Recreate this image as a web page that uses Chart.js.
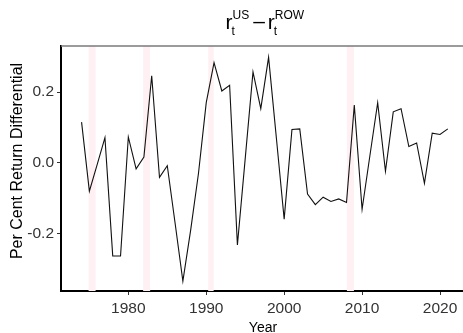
<!DOCTYPE html>
<html><head><meta charset="utf-8">
<script src="https://cdn.jsdelivr.net/npm/chart.js@4"></script>
<style>html,body{margin:0;padding:0;background:#fff;}canvas{display:block}</style>
</head><body>
<canvas id="c" width="463" height="333"></canvas>
<script>
const years = [1974,1975,1976,1977,1978,1979,1980,1981,1982,1983,1984,1985,1986,1987,1988,1989,1990,1991,1992,1993,1994,1995,1996,1997,1998,1999,2000,2001,2002,2003,2004,2005,2006,2007,2008,2009,2010,2011,2012,2013,2014,2015,2016,2017,2018,2019,2020,2021];
const differential = [0.115,-0.08,-0.005,0.071,-0.263,-0.263,0.073,-0.017,0.016,0.246,-0.041,-0.008,-0.17,-0.334,-0.19,-0.03,0.17,0.283,0.203,0.219,-0.232,0.012,0.257,0.153,0.298,0.07,-0.159,0.094,0.096,-0.088,-0.118,-0.097,-0.109,-0.102,-0.112,0.163,-0.131,0.02,0.17,-0.024,0.144,0.153,0.046,0.056,-0.058,0.084,0.08,0.096];
const yTicks = [-0.2, 0, 0.2];
const xTicks = [1980, 1990, 2000, 2010, 2020];
const bandStarts = [1974.9, 1981.9, 1990.25, 2008.05];
const bandEnds = [1975.8, 1982.8, 1990.95, 2008.95];
const titleParts = ['r', 't', 'US', '\u2013', 'r', 't', 'ROW'];
const xTitle = 'Year';
const yTitle = 'Per Cent Return Differential';

const FONT = '"Liberation Sans", Arial, sans-serif';

const bandsPlugin = {
  id: 'bands',
  beforeDatasetsDraw(chart) {
    const {ctx, chartArea: a, scales: {x}} = chart;
    ctx.save();
    ctx.fillStyle = '#FEF0F3';
    bandStarts.forEach((s, i) => {
      const x0 = x.getPixelForValue(s), x1 = x.getPixelForValue(bandEnds[i]);
      ctx.fillRect(x0, a.top, x1 - x0, a.bottom - a.top);
    });
    ctx.restore();
  }
};

const framePlugin = {
  id: 'frame',
  afterDraw(chart) {
    const {ctx, chartArea: a} = chart;
    ctx.save();
    ctx.strokeStyle = '#7a7a7a';
    ctx.lineWidth = 1.5;
    ctx.beginPath();
    ctx.moveTo(a.left, a.top);
    ctx.lineTo(a.right, a.top);
    ctx.stroke();
    ctx.fillStyle = '#000';
    ctx.textBaseline = 'alphabetic';
    ctx.textAlign = 'center';
    ctx.font = '14px ' + FONT;
    ctx.fillText(xTitle, (a.left + a.right) / 2 + 1, 331.5);
    ctx.save();
    ctx.translate(21.5, 161);
    ctx.rotate(-Math.PI / 2);
    ctx.font = '16px ' + FONT;
    ctx.fillText(yTitle, 0, 0);
    ctx.restore();
    ctx.textAlign = 'left';
    const big = '21px ' + FONT, small = '12px ' + FONT;
    let cx = 225.5;
    const baseY = 29;
    ctx.font = big; ctx.fillText(titleParts[0], cx, baseY);
    const rw = ctx.measureText(titleParts[0]).width;
    ctx.font = small;
    ctx.fillText(titleParts[1], cx + rw - 1, baseY + 6);
    ctx.fillText(titleParts[2], cx + rw, baseY - 10);
    cx = cx + rw + ctx.measureText(titleParts[2]).width + 4;
    ctx.font = big; ctx.fillText(titleParts[3], cx, baseY - 1);
    cx += ctx.measureText(titleParts[3]).width + 3;
    ctx.fillText(titleParts[4], cx, baseY);
    ctx.font = small;
    ctx.fillText(titleParts[5], cx + rw - 1, baseY + 6);
    ctx.fillText(titleParts[6], cx + rw, baseY - 10);
    ctx.restore();
  }
};

new Chart(document.getElementById('c'), {
  type: 'line',
  data: {
    datasets: [{
      data: years.map((yr, i) => ({x: yr, y: differential[i]})),
      borderColor: '#111',
      borderWidth: 1.1,
      pointRadius: 0,
      tension: 0,
      fill: false
    }]
  },
  options: {
    responsive: false,
    animation: false,
    devicePixelRatio: 1,
    layout: {padding: {top: 46, right: 0, bottom: 0, left: 0}},
    plugins: {legend: {display: false}, tooltip: {enabled: false}, title: {display: false}},
    scales: {
      x: {
        type: 'linear',
        min: 1971.36,
        max: 2022.95,
        afterBuildTicks: s => { s.ticks = xTicks.map(v => ({value: v})); },
        afterFit: s => { s.height = 42; },
        ticks: {color: '#333', font: {family: FONT, size: 15.5}, padding: 4, autoSkip: false, maxRotation: 0, callback: v => String(v)},
        grid: {display: true, drawOnChartArea: false, drawTicks: true, tickLength: 4, color: '#333'},
        border: {display: true, color: '#000', width: 2}
      },
      y: {
        type: 'linear',
        min: -0.362,
        max: 0.33,
        afterBuildTicks: s => { s.ticks = yTicks.map(v => ({value: v})); },
        afterFit: s => { s.width = 61; },
        ticks: {color: '#333', font: {family: FONT, size: 15.5}, padding: 3, callback: v => v.toFixed(1)},
        grid: {display: true, drawOnChartArea: false, drawTicks: true, tickLength: 4, color: '#333'},
        border: {display: true, color: '#000', width: 2}
      }
    }
  },
  plugins: [bandsPlugin, framePlugin]
});
</script>
</body></html>
